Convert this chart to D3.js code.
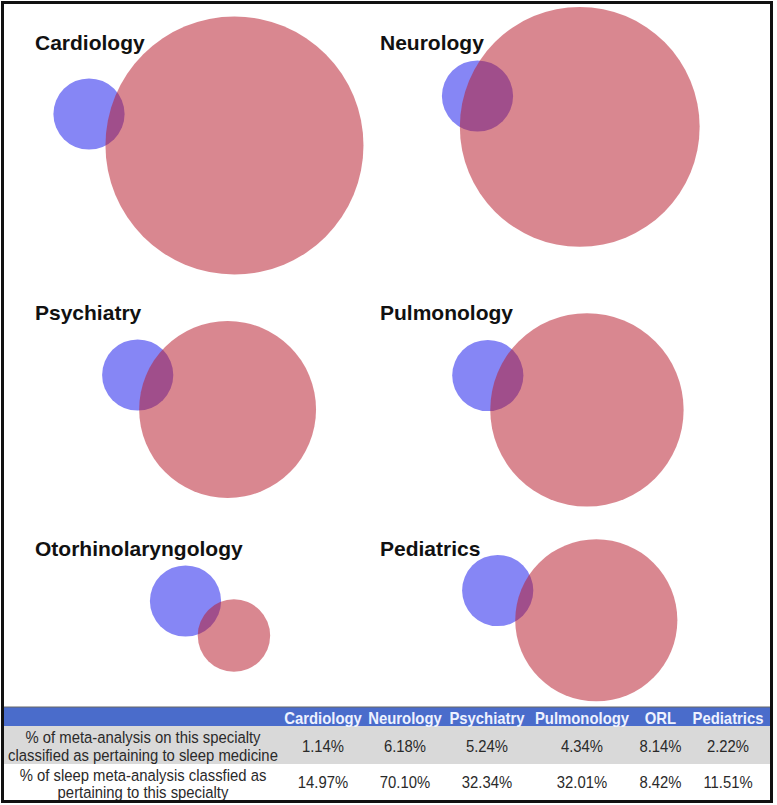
<!DOCTYPE html>
<html>
<head>
<meta charset="utf-8">
<script src="https://cdn.jsdelivr.net/npm/d3@7"></script>
<style>
  html, body { margin: 0; padding: 0; background: #fff; }
  svg { display: block; }
  text { font-family: "Liberation Sans", Arial, sans-serif; }
</style>
</head>
<body>
<div id="chart"></div>
<script>
// ---------------- DATA ----------------
const specialties = ["Cardiology", "Neurology", "Psychiatry", "Pulmonology", "Otorhinolaryngology", "Pediatrics"];
const headerLabels = ["Cardiology", "Neurology", "Psychiatry", "Pulmonology", "ORL", "Pediatrics"];
// % of meta-analyses on this specialty classified as sleep medicine
const pctSpecialtyInSleep = [1.14, 6.18, 5.24, 4.34, 8.14, 2.22];
// % of sleep meta-analyses classified as pertaining to this specialty
const pctSleepInSpecialty = [14.97, 70.10, 32.34, 32.01, 8.42, 11.51];
const rowLabels = [
  ["% of meta-analysis on this specialty", "classified as pertaining to sleep medicine"],
  ["% of sleep meta-analysis classfied as", "pertaining to this specialty"]
];

// ---------------- LAYOUT ----------------
const W = 777, H = 805;
const blueR = 35.6;                    // radius representing the whole set of sleep meta-analyses
const panelCols = [35, 380];           // title x for left / right column
const panelTitleY = [50, 320, 556];    // title baseline per row
// blue-circle centre offset from the title anchor, and direction (deg) toward the specialty circle
const blueOffset = [[54, 64], [97.5, 46], [102.7, 55], [107.8, 55.5], [150.5, 45], [117.7, 34.5]];
const direction = [12.2, 16.8, 21, 19.1, 35.5, 16.8];
const colCenters = [323, 405, 487, 582, 660.5, 728];

const svg = d3.select("#chart").append("svg").attr("width", W).attr("height", H);

// area scale: circle radius from relative set size (sleep set = 1)
const rScale = d3.scaleSqrt().domain([0, 1]).range([0, blueR]);

function lensArea(d, r1, r2) {
  if (d >= r1 + r2) return 0;
  if (d <= Math.abs(r1 - r2)) return Math.PI * Math.min(r1, r2) ** 2;
  const a1 = Math.acos((d * d + r1 * r1 - r2 * r2) / (2 * d * r1));
  const a2 = Math.acos((d * d + r2 * r2 - r1 * r1) / (2 * d * r2));
  const k = Math.sqrt((-d + r1 + r2) * (d + r1 - r2) * (d - r1 + r2) * (d + r1 + r2));
  return r1 * r1 * a1 + r2 * r2 * a2 - 0.5 * k;
}
function solveDistance(r1, r2, target) {
  let lo = Math.abs(r1 - r2), hi = r1 + r2;
  for (let i = 0; i < 80; i++) {
    const mid = (lo + hi) / 2;
    if (lensArea(mid, r1, r2) > target) lo = mid; else hi = mid;
  }
  return (lo + hi) / 2;
}

const panels = specialties.map((name, i) => {
  const col = i % 2, row = Math.floor(i / 2);
  const tx = panelCols[col], ty = panelTitleY[row];
  const rb = rScale(1);
  const rr = rScale(pctSleepInSpecialty[i] / pctSpecialtyInSleep[i]);
  const overlap = (pctSleepInSpecialty[i] / 100) * Math.PI * rb * rb;
  const d = solveDistance(rb, rr, overlap);
  const bx = tx + blueOffset[i][0], by = ty + blueOffset[i][1];
  const ang = direction[i] * Math.PI / 180;
  return { name, tx, ty, rb, rr, bx, by, rx: bx + d * Math.cos(ang), ry: by + d * Math.sin(ang) };
});

const g = svg.append("g");
g.selectAll("circle.blue").data(panels).join("circle")
  .attr("class", "blue")
  .attr("cx", d => d.bx).attr("cy", d => d.by).attr("r", d => d.rb)
  .attr("fill", "#8686F5");
g.selectAll("circle.red").data(panels).join("circle")
  .attr("class", "red")
  .attr("cx", d => d.rx).attr("cy", d => d.ry).attr("r", d => d.rr)
  .attr("fill", "rgb(183,28,45)").attr("fill-opacity", 0.53);
g.selectAll("text.title").data(panels).join("text")
  .attr("class", "title")
  .attr("x", d => d.tx).attr("y", d => d.ty)
  .attr("font-size", 21).attr("font-weight", "bold").attr("fill", "#111")
  .text(d => d.name);

// ---------------- TABLE ----------------
const bandTop = 707, bandBot = 726, row1Bot = 764;
svg.append("rect").attr("x", 4).attr("y", bandTop).attr("width", 767).attr("height", bandBot - bandTop)
  .attr("fill", "#4A6CCB");
svg.append("line").attr("x1", 4).attr("x2", 771).attr("y1", bandTop).attr("y2", bandTop)
  .attr("stroke", "#666").attr("stroke-width", 1);
svg.append("rect").attr("x", 4).attr("y", bandBot).attr("width", 767).attr("height", row1Bot - bandBot)
  .attr("fill", "#D9D9D9");

// condensed-looking table text: larger size, squeezed horizontally
function narrowText(sel, x, y, sx) {
  sel.attr("transform", (d, i) => `translate(${x(d, i)},${y(d, i)}) scale(${sx},1)`);
}

svg.selectAll("text.hdr").data(headerLabels).join("text")
  .attr("class", "hdr")
  .attr("text-anchor", "middle").attr("font-size", 16).attr("font-weight", "bold")
  .attr("fill", "#EEF2FF").text(d => d)
  .call(narrowText, (d, i) => colCenters[i], () => 723.5, 0.93);

const rowData = [pctSpecialtyInSleep, pctSleepInSpecialty];
const rowValueY = [751.5, 788];
const rowLabelY = [[743, 761], [781, 797.5]];
rowData.forEach((vals, r) => {
  svg.append("g").selectAll("text").data(vals).join("text")
    .attr("text-anchor", "middle").attr("font-size", 16.5).attr("fill", "#2a2a2a")
    .text(d => d.toFixed(2) + "%")
    .call(narrowText, (d, i) => colCenters[i], () => rowValueY[r], 0.9);
  svg.append("g").selectAll("text").data(rowLabels[r]).join("text")
    .attr("text-anchor", "middle").attr("font-size", 16.5).attr("fill", "#2a2a2a")
    .text(d => d)
    .call(narrowText, () => 143, (d, k) => rowLabelY[r][k], 0.9);
});

// outer frame
svg.append("rect").attr("x", 2.5).attr("y", 2.5).attr("width", 769).attr("height", 799)
  .attr("fill", "none").attr("stroke", "#111").attr("stroke-width", 3);
</script>
</body>
</html>
